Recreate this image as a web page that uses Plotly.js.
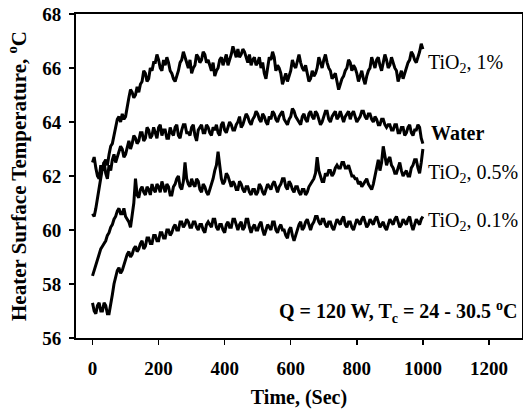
<!DOCTYPE html>
<html>
<head>
<meta charset="utf-8">
<script src="https://cdn.plot.ly/plotly-3.0.1.min.js"></script>
<style>html,body{margin:0;padding:0;background:#fff;}#chart{width:523px;height:413px;}</style>
</head>
<body>
<div id="chart"></div>
<script>
// time axis (s), 5 s steps
const time = [0,5,10,15,20,25,30,35,40,45,50,55,60,65,70,75,80,85,90,95,
100,105,110,115,120,125,130,135,140,145,150,155,160,165,170,175,180,185,190,195,
200,205,210,215,220,225,230,235,240,245,250,255,260,265,270,275,280,285,290,295,
300,305,310,315,320,325,330,335,340,345,350,355,360,365,370,375,380,385,390,395,
400,405,410,415,420,425,430,435,440,445,450,455,460,465,470,475,480,485,490,495,
500,505,510,515,520,525,530,535,540,545,550,555,560,565,570,575,580,585,590,595,
600,605,610,615,620,625,630,635,640,645,650,655,660,665,670,675,680,685,690,695,
700,705,710,715,720,725,730,735,740,745,750,755,760,765,770,775,780,785,790,795,
800,805,810,815,820,825,830,835,840,845,850,855,860,865,870,875,880,885,890,895,
900,905,910,915,920,925,930,935,940,945,950,955,960,965,970,975,980,985,990,995,1000];

const tio2_1 = [62.5,62.7,62.3,62.0,61.9,62.4,62.2,62.5,62.6,62.4,
62.8,63.1,63.2,63.5,63.8,64.1,64.2,64.0,64.3,64.1,
64.2,64.6,64.9,65.2,65.1,64.9,65.0,65.3,65.1,65.4,
65.5,65.9,65.8,65.5,65.6,66.0,65.9,66.2,66.2,66.5,
66.3,66.0,65.9,66.3,66.1,66.4,66.2,65.9,65.8,65.6,
65.5,65.7,65.9,66.2,66.3,66.6,66.4,66.2,66.0,66.3,
65.8,66.0,66.1,66.5,66.4,66.2,66.3,66.6,66.5,66.2,
66.3,66.1,65.9,66.2,65.7,65.9,66.0,66.3,66.4,66.1,
66.3,66.5,66.1,66.3,66.5,66.8,66.6,66.4,66.7,66.4,
66.5,66.7,66.6,66.4,66.2,66.5,66.1,66.3,66.4,66.1,
66.2,66.4,66.0,66.2,65.8,65.6,66.1,66.4,66.3,66.6,
66.4,65.9,66.1,66.0,65.8,65.4,65.6,65.8,65.5,65.7,
65.9,66.3,66.1,66.0,66.3,66.5,66.2,66.0,65.9,66.1,
65.8,65.5,65.6,65.9,65.7,65.8,66.0,66.4,66.2,66.0,
66.3,66.5,66.2,66.0,65.9,65.6,65.7,65.8,65.5,65.2,
65.4,65.6,65.7,65.9,66.0,66.3,66.2,65.9,66.1,66.0,
65.8,65.5,65.7,65.9,65.6,65.4,65.7,65.9,66.0,66.4,
66.2,66.0,66.3,66.4,66.1,65.9,66.2,66.5,66.3,66.0,
66.1,66.4,66.2,66.0,65.9,65.5,65.7,65.9,65.6,65.8,
66.0,66.2,66.3,66.6,66.5,66.3,66.2,66.4,66.6,66.9,66.7];

const water = [60.6,60.5,60.8,61.2,61.6,62.0,62.3,62.5,62.1,61.9,
62.4,62.2,62.6,62.8,62.5,62.7,62.9,63.1,63.0,62.7,
62.8,63.1,63.3,63.0,63.2,63.5,63.4,63.2,63.3,63.6,
63.6,63.3,63.4,63.8,63.7,63.4,63.5,63.8,63.6,63.4,
63.8,63.9,63.5,63.7,63.7,63.4,63.4,63.8,63.6,63.5,
63.8,63.9,63.5,63.4,63.7,63.9,63.9,63.6,63.6,63.5,
63.8,63.9,63.5,63.3,63.7,63.8,63.9,63.6,63.6,63.9,
63.8,63.6,63.5,63.8,63.7,63.9,63.6,63.5,63.9,64.0,
63.7,63.6,63.8,64.0,63.9,63.7,63.7,63.9,64.0,64.2,
63.8,63.9,64.1,64.3,64.2,64.0,63.9,64.1,64.2,64.4,
64.3,64.1,64.0,64.3,64.2,64.0,63.9,64.2,64.1,64.4,
64.3,64.1,64.0,64.2,64.3,64.4,64.1,64.0,63.9,64.1,
64.2,64.5,64.4,64.2,64.1,64.0,63.9,64.2,64.3,64.1,
64.0,64.3,64.4,64.2,64.1,64.4,64.3,64.1,63.9,64.0,
64.2,64.4,64.4,64.1,64.0,64.2,64.3,64.4,64.1,64.2,
64.4,64.2,64.0,64.2,64.3,64.4,64.1,64.3,64.4,64.2,
64.0,64.1,64.2,64.4,64.4,64.2,64.1,64.3,64.3,64.1,
64.0,64.2,64.1,63.9,63.9,64.1,64.1,63.9,63.8,63.9,
63.9,63.7,63.7,63.9,63.9,63.6,63.6,63.8,63.8,63.5,
63.6,63.8,63.9,63.6,63.5,63.7,63.7,63.9,63.8,63.4,63.2];

const tio2_05 = [58.3,58.5,58.7,58.9,59.1,59.3,59.4,59.5,59.6,59.8,
59.9,60.1,60.2,60.4,60.5,60.7,60.8,60.6,60.6,60.8,
60.5,60.4,60.3,60.1,60.6,61.0,61.9,61.3,61.2,61.5,
61.6,61.4,61.3,61.6,61.5,61.3,61.7,61.5,61.4,61.7,
61.6,61.4,61.8,61.6,61.4,61.7,61.6,61.3,61.3,61.6,
61.7,61.9,62.0,61.6,61.5,61.8,62.5,61.9,61.7,61.6,
61.9,61.7,61.6,61.9,61.8,61.5,61.4,61.7,61.6,61.4,
61.3,61.5,61.7,61.9,62.2,62.4,62.9,62.3,61.9,61.7,
61.8,62.1,62.0,61.8,61.6,61.8,61.7,61.5,61.5,61.8,
61.7,61.5,61.4,61.6,61.6,61.4,61.3,61.5,61.5,61.3,
61.4,61.7,61.6,61.4,61.3,61.5,61.7,61.6,61.5,61.7,
61.8,61.6,61.4,61.6,61.7,61.9,61.9,61.6,61.5,61.8,
61.7,61.5,61.4,61.6,61.6,61.4,61.3,61.5,61.5,61.3,
61.4,61.6,61.7,61.8,61.9,62.1,62.7,62.2,62.0,61.8,
61.8,62.1,62.0,62.2,62.2,62.0,62.1,62.3,62.4,62.3,
62.3,62.5,62.5,62.3,62.3,62.4,62.2,62.0,62.0,61.9,
61.9,61.7,61.8,61.6,61.7,61.8,61.9,61.7,61.6,61.5,
61.7,62.0,62.4,62.6,62.2,62.5,63.1,62.7,62.4,62.6,
62.7,62.4,62.3,62.1,62.1,62.3,62.5,62.2,62.0,62.1,
62.2,62.0,62.0,62.3,62.4,62.6,62.6,62.3,62.1,62.5,63.0];

const tio2_01 = [57.3,57.0,56.9,57.2,57.3,57.0,57.0,57.3,57.2,56.9,
56.9,57.2,57.6,58.0,58.3,58.5,58.6,58.4,58.5,58.7,
58.9,59.1,59.2,59.0,59.1,59.3,59.4,59.2,59.3,59.5,
59.6,59.3,59.4,59.7,59.7,59.5,59.5,59.8,59.8,59.6,
59.6,59.9,59.9,59.7,59.7,60.0,60.0,59.8,59.9,60.1,
60.2,60.0,60.0,60.3,60.3,60.1,60.2,60.4,60.3,60.1,
60.1,60.3,60.3,60.1,60.0,60.2,60.2,60.0,59.9,60.2,
60.3,60.2,60.1,60.4,60.4,60.1,60.0,60.2,60.2,60.0,
59.9,60.2,60.3,60.1,60.1,60.4,60.4,60.2,60.0,60.2,
60.3,60.0,60.1,60.4,60.4,60.1,59.9,60.1,60.2,60.0,
60.0,60.2,60.3,60.0,59.8,60.0,60.2,60.1,60.0,60.3,
60.3,60.0,59.9,60.1,60.2,60.0,60.0,59.8,59.7,60.0,
60.1,59.8,59.6,59.8,60.0,60.2,60.3,60.0,60.1,60.3,
60.4,60.2,60.0,60.2,60.3,60.5,60.5,60.3,60.2,60.4,
60.4,60.2,60.1,60.3,60.3,60.1,60.0,60.2,60.4,60.3,
60.2,60.4,60.5,60.2,60.1,60.3,60.3,60.1,60.0,60.2,
60.4,60.3,60.2,60.4,60.5,60.3,60.1,60.2,60.4,60.3,
60.2,60.4,60.5,60.3,60.1,60.2,60.3,60.1,60.0,60.2,
60.4,60.3,60.2,60.4,60.5,60.3,60.1,60.2,60.4,60.3,
60.2,60.4,60.5,60.2,60.0,60.2,60.4,60.3,60.2,60.4,60.5];

const seriesNames = ["TiO<sub>2</sub>, 1%", "Water", "TiO<sub>2</sub>, 0.5%", "TiO<sub>2</sub>, 0.1%"];
const labelX = [1008, 1018, 1008, 1008];
const labelY = [66.15, 63.6, 62.1, 60.3];
const labelBold = [false, true, false, false];
const xTicks = [0,200,400,600,800,1000,1200];
const yTicks = [56,58,60,62,64,66,68];

const serif = "Liberation Serif, Times New Roman, serif";
const allSeries = [tio2_1, water, tio2_05, tio2_01];

const traces = allSeries.map((ys, i) => ({
  x: time, y: ys, type: "scatter", mode: "lines",
  line: {color: "#000", width: 3}, name: seriesNames[i], showlegend: false
}));

const annotations = seriesNames.map((n, i) => ({
  x: labelX[i], y: labelY[i], xref: "x", yref: "y", xanchor: "left", yanchor: "middle",
  text: labelBold[i] ? "<b>" + n + "</b>" : n, showarrow: false,
  font: {family: serif, size: 20, color: "#000"}
}));
annotations.push({
  x: 1290, y: 56.96, xref: "x", yref: "y", xanchor: "right", yanchor: "middle",
  text: "<b>Q = 120 W, T<sub>c</sub> = 24 - 30.5 <sup>o</sup>C</b>", showarrow: false,
  font: {family: serif, size: 20, color: "#000"}
});

const layout = {
  width: 523, height: 413,
  margin: {l: 76, r: 1, t: 14, b: 75},
  paper_bgcolor: "#fff", plot_bgcolor: "#fff",
  showlegend: false,
  font: {family: serif, color: "#000"},
  xaxis: {
    range: [-50, 1300], tickvals: xTicks, ticktext: xTicks.map(v => "<b>" + v + "</b>"),
    showgrid: false, zeroline: false, showline: true, linecolor: "#000", linewidth: 2, mirror: true,
    ticks: "outside", ticklen: 5, tickwidth: 1.5, tickcolor: "#000", ticklabelstandoff: 7,
    tickfont: {family: serif, size: 19, color: "#000"},
    title: {text: "<b>Time, (Sec)</b>", font: {family: serif, size: 20, color: "#000"}, standoff: 12}
  },
  yaxis: {
    range: [56, 68], tickvals: yTicks, ticktext: yTicks.map(v => "<b>" + v + "</b>"),
    showgrid: false, zeroline: false, showline: true, linecolor: "#000", linewidth: 2, mirror: true,
    ticks: "outside", ticklen: 5, tickwidth: 1.5, tickcolor: "#000", ticklabelstandoff: 4,
    tickfont: {family: serif, size: 19, color: "#000"},
    title: {text: "<b>Heater Surface Temperature, <sup>o</sup>C</b>", font: {family: serif, size: 21, color: "#000"}, standoff: 10}
  },
  annotations: annotations
};

Plotly.newPlot("chart", traces, layout, {displayModeBar: false, staticPlot: true});
</script>
</body>
</html>
